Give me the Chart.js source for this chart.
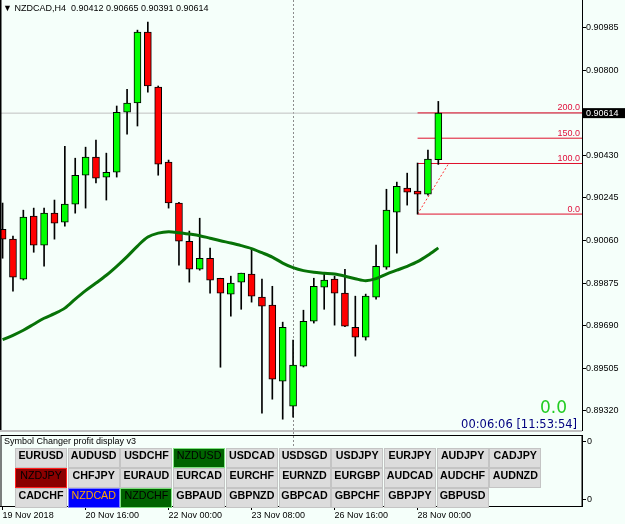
<!DOCTYPE html>
<html>
<head>
<meta charset="utf-8">
<script src="https://cdn.jsdelivr.net/npm/chart.js@4.4.0/dist/chart.umd.min.js"></script>
<style>
  html, body { margin: 0; padding: 0; background: #f5fffa; }
  body { width: 625px; height: 524px; position: relative; overflow: hidden; font-family: "Liberation Sans", Arial, sans-serif; }
  canvas { position: absolute; left: 0; }
  #main { top: 0; }
  #sub { top: 432px; }
  .txt { position: absolute; white-space: pre; line-height: 1; }
  #hdr { left: 3px; top: 4px; font-size: 9px; color: #000; }
  #title { left: 4px; top: 437px; font-size: 9px; color: #000; }
  .btn { position: absolute; width: 50px; height: 18px; line-height: 18px; text-align: center;
         background: #dcdcdc; border: 1px solid #c4c4c4; font: bold 10.7px "Liberation Sans", Arial, sans-serif; color: #000; }
</style>
</head>
<body>
<canvas id="main" width="625" height="432"></canvas>
<canvas id="sub" width="625" height="92"></canvas>
<div class="txt" id="hdr">▼ NZDCAD,H4  0.90412 0.90665 0.90391 0.90614</div>
<div class="txt" id="title">Symbol Changer profit display v3</div>
<div id="buttons"></div>
<script>
// candles, H4 NZDCAD
var opens  = [0.90109,0.90066,0.89892,0.90166,0.90040,0.90179,0.90140,0.90218,0.90344,0.90423,0.90336,0.90357,0.90618,0.90658,0.90966,0.90727,0.90401,0.90223,0.90057,0.89935,0.89983,0.89896,0.89827,0.89879,0.89914,0.89814,0.89779,0.89448,0.89340,0.89514,0.89709,0.89857,0.89892,0.89831,0.89683,0.89640,0.89814,0.89944,0.90183,0.90288,0.90275,0.90262,0.90412];
var highs  = [0.90223,0.90079,0.90192,0.90201,0.90201,0.90236,0.90470,0.90418,0.90466,0.90497,0.90440,0.90645,0.90718,0.90975,0.91010,0.90732,0.90410,0.90226,0.90101,0.90157,0.90027,0.89896,0.89905,0.89918,0.90022,0.89892,0.89861,0.89705,0.89627,0.89757,0.89896,0.89918,0.89905,0.89935,0.89818,0.89827,0.90040,0.90283,0.90314,0.90353,0.90397,0.90453,0.90665];
var lows   = [0.89983,0.89840,0.89888,0.90009,0.89948,0.90066,0.90122,0.90179,0.90201,0.90310,0.90236,0.90336,0.90523,0.90558,0.90705,0.90344,0.90201,0.89953,0.89879,0.89931,0.89831,0.89509,0.89731,0.89761,0.89792,0.89309,0.89370,0.89283,0.89292,0.89510,0.89701,0.89761,0.89692,0.89685,0.89557,0.89627,0.89805,0.89935,0.90005,0.90214,0.90175,0.90257,0.90391];
var closes = [0.90066,0.89901,0.90162,0.90040,0.90179,0.90136,0.90218,0.90344,0.90423,0.90331,0.90357,0.90618,0.90658,0.90966,0.90732,0.90392,0.90223,0.90057,0.89935,0.89983,0.89888,0.89831,0.89875,0.89918,0.89818,0.89774,0.89457,0.89683,0.89518,0.89709,0.89861,0.89888,0.89831,0.89688,0.89640,0.89818,0.89948,0.90192,0.90296,0.90270,0.90262,0.90414,0.90614];
// moving average
var maValues = [0.89629,0.89648,0.89670,0.89696,0.89722,0.89742,0.89766,0.89805,0.89842,0.89875,0.89909,0.89948,0.89990,0.90036,0.90075,0.90092,0.90098,0.90094,0.90088,0.90081,0.90070,0.90059,0.90049,0.90038,0.90025,0.90007,0.89988,0.89962,0.89942,0.89929,0.89922,0.89918,0.89914,0.89905,0.89894,0.89885,0.89894,0.89914,0.89931,0.89948,0.89968,0.89996,0.90028];
// fibo expansion
var fibLabels = ['0.0', '100.0', '150.0', '200.0'];
var fibPrices = [0.90175, 0.90395, 0.90505, 0.90615];
var fibStart = 40, fibDiagEnd = 43;
var bidPrice = 0.90614;
var separatorIndex = 28;
// axes
var yTicks = [0.90985, 0.90800, 0.90430, 0.90245, 0.90060, 0.89875, 0.89690, 0.89505, 0.89320];
var dateTickIdx = [0, 8, 16, 24, 32, 40];
var dateLabels = ['19 Nov 2018', '20 Nov 16:00', '22 Nov 00:00', '23 Nov 08:00', '26 Nov 16:00', '28 Nov 00:00'];
var xMin = -0.25, xMax = 55.85;
var yMin = 0.89236, yMax = 0.91106;
// symbol buttons
var symbolRows = [
    ['EURUSD','AUDUSD','USDCHF','NZDUSD','USDCAD','USDSGD','USDJPY','EURJPY','AUDJPY','CADJPY'],
    ['NZDJPY','CHFJPY','EURAUD','EURCAD','EURCHF','EURNZD','EURGBP','AUDCAD','AUDCHF','AUDNZD'],
    ['CADCHF','NZDCAD','NZDCHF','GBPAUD','GBPNZD','GBPCAD','GBPCHF','GBPJPY','GBPUSD']
];
var symbolStyles = {
    NZDUSD: { bg: '#006400', fg: '#000', border: '#7fe07f' },
    NZDJPY: { bg: '#8b0000', fg: '#000', border: '#ff2020' },
    NZDCAD: { bg: '#0000ff', fg: '#ffa500', border: '#8080ff' },
    NZDCHF: { bg: '#006400', fg: '#000', border: '#7fe07f' }
};

function getBodies() {
    return opens.map((o, i) => ({ x: i, y: [o, closes[i]] }));
}
function getWicks() {
    return lows.map((l, i) => ({ x: i, y: [l, highs[i]] }));
}
function getBodyColours() {
    return opens.map((o, i) => closes[i] >= o ? '#00ff00' : '#ff0000');
}

var fibDatasets = fibPrices.map(p => ({
    type: 'line',
    data: [{ x: fibStart, y: p }, { x: xMax, y: p }],
    borderColor: '#e0102c',
    borderWidth: 1,
    pointRadius: 0,
    order: 5
}));

var mainMarks = {
    id: 'mainMarks',
    beforeDatasetsDraw(chart) {
        var ctx = chart.ctx, a = chart.chartArea;
        var px = Math.round(chart.scales.x.getPixelForValue(separatorIndex)) + 0.5;
        ctx.save();
        ctx.strokeStyle = '#8c8c8c';
        ctx.setLineDash([2, 2]);
        ctx.beginPath();
        ctx.moveTo(px, a.top);
        ctx.lineTo(px, a.bottom);
        ctx.stroke();
        ctx.restore();
    },
    afterDraw(chart) {
        var ctx = chart.ctx, a = chart.chartArea, y = chart.scales.y;
        ctx.save();
        // fibo level labels
        ctx.font = '9px "Liberation Sans", Arial, sans-serif';
        ctx.fillStyle = '#e0103c';
        ctx.textAlign = 'right';
        ctx.textBaseline = 'bottom';
        fibPrices.forEach((p, i) => {
            ctx.fillText(fibLabels[i], a.right - 2, y.getPixelForValue(p) - 0.5);
        });
        // frame
        ctx.fillStyle = '#000';
        ctx.fillRect(0, 0, 1.5, a.bottom);
        ctx.fillStyle = '#c0c0c0';
        ctx.fillRect(0, a.bottom, a.right, 2);
        // current price box
        var by = y.getPixelForValue(bidPrice);
        ctx.fillStyle = '#000';
        ctx.fillRect(a.right + 1, by - 5, 42, 10);
        ctx.fillStyle = '#fff';
        ctx.textAlign = 'left';
        ctx.textBaseline = 'middle';
        ctx.fillText(bidPrice.toFixed(5), a.right + 4, by + 0.5);
        // profit and timer
        ctx.textAlign = 'right';
        ctx.textBaseline = 'alphabetic';
        ctx.font = '17px "DejaVu Sans", sans-serif';
        ctx.fillStyle = '#22cc22';
        ctx.fillText('0.0', 567, 413);
        ctx.font = '11.5px "DejaVu Sans", sans-serif';
        ctx.fillStyle = '#000080';
        ctx.fillText('00:06:06 [11:53:54]', 577, 428);
        ctx.restore();
    }
};

new Chart(document.getElementById('main').getContext('2d'), {
    type: 'bar',
    data: {
        datasets: [
            {
                type: 'line',
                data: [{ x: xMin, y: bidPrice }, { x: xMax, y: bidPrice }],
                borderColor: '#c0c0c0',
                borderWidth: 1,
                pointRadius: 0,
                order: 6
            }
        ].concat(fibDatasets, [
            {
                type: 'line',
                data: [{ x: fibStart, y: fibPrices[0] }, { x: fibDiagEnd, y: fibPrices[1] }],
                borderColor: '#ff3030',
                borderWidth: 1,
                borderDash: [2, 2],
                pointRadius: 0,
                order: 4
            },
            {
                data: getWicks(),
                backgroundColor: '#000',
                borderWidth: 0,
                barThickness: 1,
                grouped: false,
                order: 3
            },
            {
                data: getBodies(),
                backgroundColor: getBodyColours(),
                borderColor: '#000',
                borderWidth: 1,
                borderSkipped: false,
                barThickness: 7,
                grouped: false,
                order: 2
            },
            {
                type: 'line',
                data: maValues.map((v, i) => ({ x: i, y: v })),
                borderColor: '#077307',
                borderWidth: 3,
                pointRadius: 0,
                tension: 0.3,
                order: 1
            }
        ])
    },
    options: {
        responsive: false,
        animation: false,
        events: [],
        layout: { padding: { top: 0, left: 0, right: 0, bottom: 2 } },
        plugins: { legend: { display: false }, tooltip: { enabled: false } },
        scales: {
            x: { type: 'linear', min: xMin, max: xMax, offset: false, display: false },
            y: {
                position: 'right',
                min: yMin,
                max: yMax,
                afterBuildTicks: s => { s.ticks = yTicks.map(v => ({ value: v })); },
                afterFit: s => { s.width = 43; s.paddingTop = 0; s.paddingBottom = 0; },
                grid: { drawOnChartArea: false, tickLength: 4, color: '#000' },
                border: { color: '#000' },
                ticks: {
                    padding: 0,
                    color: '#000',
                    font: { family: '"Liberation Sans", Arial, sans-serif', size: 9 },
                    callback: v => v.toFixed(5)
                }
            }
        }
    },
    plugins: [mainMarks]
});

var subMarks = {
    id: 'subMarks',
    beforeDatasetsDraw(chart) {
        var ctx = chart.ctx, a = chart.chartArea;
        var px = Math.round(chart.scales.x.getPixelForValue(separatorIndex)) + 0.5;
        ctx.save();
        ctx.strokeStyle = '#8c8c8c';
        ctx.setLineDash([2, 2]);
        ctx.beginPath();
        ctx.moveTo(px, 0);
        ctx.lineTo(px, a.bottom);
        ctx.stroke();
        ctx.restore();
    },
    afterDraw(chart) {
        var ctx = chart.ctx, a = chart.chartArea;
        ctx.save();
        ctx.strokeStyle = '#000';
        ctx.lineWidth = 1;
        ctx.strokeRect(1, a.top + 0.5, a.right - 1, a.bottom - a.top);
        ctx.restore();
    }
};

new Chart(document.getElementById('sub').getContext('2d'), {
    type: 'line',
    data: { datasets: [{ data: [], pointRadius: 0 }] },
    options: {
        responsive: false,
        animation: false,
        events: [],
        layout: { padding: { top: 3, left: 0, right: 0, bottom: 0 } },
        plugins: { legend: { display: false }, tooltip: { enabled: false } },
        scales: {
            x: {
                type: 'linear', min: xMin, max: xMax, offset: false,
                afterBuildTicks: s => { s.ticks = dateTickIdx.map(v => ({ value: v })); },
                afterFit: s => { s.height = 18; s.paddingLeft = 0; s.paddingRight = 0; },
                grid: { drawOnChartArea: false, tickLength: 4, color: '#000' },
                border: { color: '#000' },
                ticks: {
                    align: 'start',
                    maxRotation: 0,
                    autoSkip: false,
                    padding: 0,
                    color: '#000',
                    font: { family: '"Liberation Sans", Arial, sans-serif', size: 9 },
                    callback: v => dateLabels[dateTickIdx.indexOf(v)]
                }
            },
            y: {
                position: 'right',
                min: 0,
                max: 1,
                afterBuildTicks: s => { s.ticks = [{ value: 0.085 }, { value: 0.915 }]; },
                afterFit: s => { s.width = 43; s.paddingTop = 0; s.paddingBottom = 0; },
                grid: { drawOnChartArea: false, tickLength: 4, color: '#000' },
                border: { color: '#000' },
                ticks: {
                    padding: 1,
                    color: '#000',
                    font: { family: '"Liberation Sans", Arial, sans-serif', size: 9 },
                    callback: () => '0'
                }
            }
        }
    },
    plugins: [subMarks]
});

// symbol changer buttons
var holder = document.getElementById('buttons');
var rowTops = [448, 468, 488];
symbolRows.forEach((row, r) => {
    row.forEach((sym, c) => {
        var b = document.createElement('div');
        b.className = 'btn';
        b.textContent = sym;
        b.style.left = (15 + c * 52.7) + 'px';
        b.style.top = rowTops[r] + 'px';
        var st = symbolStyles[sym];
        if (st) {
            b.style.background = st.bg;
            b.style.color = st.fg;
            b.style.borderColor = st.border;
            b.style.fontWeight = 'normal';
        }
        holder.appendChild(b);
    });
});
</script>
</body>
</html>
